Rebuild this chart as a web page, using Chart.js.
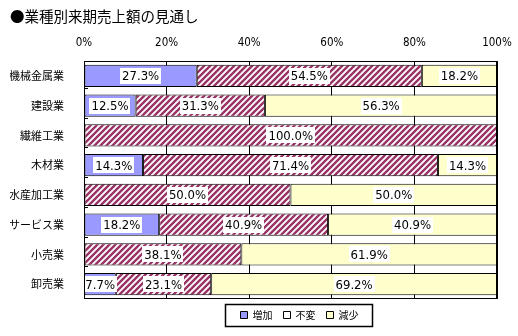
<!DOCTYPE html>
<html lang="ja">
<head>
<meta charset="UTF-8">
<title>業種別来期売上額の見通し</title>
<style>
    body { margin: 0; background: #fff; }
    #wrap { width: 518px; height: 336px; }
</style>
</head>
<body>
<div id="wrap"><canvas id="chart" width="518" height="336"></canvas></div>
<script src="https://cdn.jsdelivr.net/npm/chart.js"></script>
<script>
// データ
const categories = ['機械金属業', '建設業', '繊維工業', '木材業', '水産加工業', 'サービス業', '小売業', '卸売業'];
const seriesNames = ['増加', '不変', '減少'];
const zouka = [27.3, 12.5, 0, 14.3, 0, 18.2, 0, 7.7];
const fuhen = [54.5, 31.3, 100, 71.4, 50.0, 40.9, 38.1, 23.1];
const genshou = [18.2, 56.3, 0, 14.3, 50.0, 40.9, 61.9, 69.2];
const xTicks = [0, 20, 40, 60, 80, 100];

const JP = '"Noto Sans CJK JP", sans-serif';
const NUM = '"Liberation Sans Narrow", "DejaVu Sans Condensed", "Liberation Sans", sans-serif';

// 斜線パターン（不変）
function makeHatch() {
    const c = document.createElement('canvas');
    c.width = 6; c.height = 6;
    const g = c.getContext('2d');
    g.fillStyle = '#fff';
    g.fillRect(0, 0, 6, 6);
    g.strokeStyle = '#993366';
    g.lineWidth = 2.4;
    g.beginPath();
    g.moveTo(-1, 1); g.lineTo(1, -1);
    g.moveTo(-1, 7); g.lineTo(7, -1);
    g.moveTo(5, 7); g.lineTo(7, 5);
    g.stroke();
    return g.createPattern(c, 'repeat');
}
const hatch = makeHatch();

// 各区間の中央に白地のラベル
const valueLabels = {
    id: 'valueLabels',
    afterDatasetsDraw(chart) {
        const ctx = chart.ctx;
        ctx.save();
        ctx.font = '13px ' + NUM;
        ctx.textAlign = 'center';
        ctx.textBaseline = 'middle';
        chart.data.datasets.forEach((ds, i) => {
            chart.getDatasetMeta(i).data.forEach((el, j) => {
                const v = ds.data[j];
                if (!v) return;
                const p = el.getCenterPoint();
                const t = v.toFixed(1) + '%';
                const w = ctx.measureText(t).width + 4;
                ctx.fillStyle = '#fff';
                ctx.fillRect(Math.round(p.x - w / 2), Math.round(p.y - 8), Math.round(w), 16);
                ctx.fillStyle = '#000';
                ctx.fillText(t, p.x, p.y + 1);
            });
        });
        ctx.restore();
    }
};

// プロットエリアの枠と内向きの目盛
const plotFrame = {
    id: 'plotFrame',
    afterDatasetsDraw(chart) {
        const a = chart.chartArea;
        const y = chart.scales.y;
        const ctx = chart.ctx;
        ctx.save();
        ctx.strokeStyle = '#000';
        ctx.lineWidth = 1;
        ctx.strokeRect(Math.round(a.left) + 0.5, Math.round(a.top) + 0.5, Math.round(a.right - a.left) - 1, Math.round(a.bottom - a.top) - 1);
        ctx.beginPath();
        for (let i = 1; i < categories.length; i++) {
            const py = Math.round(y.getPixelForValue(i - 0.5)) - 2.5;
            ctx.moveTo(a.left, py);
            ctx.lineTo(a.left + 4, py);
        }
        ctx.stroke();
        ctx.restore();
    }
};

// 凡例を少し右へずらし、枠で囲む
const legendBox = {
    id: 'legendBox',
    afterLayout(chart) {
        chart.legend.left += 9;
        chart.legend.right += 9;
    },
    afterDraw(chart) {
        const hb = chart.legend.legendHitBoxes;
        if (!hb || !hb.length) return;
        const first = hb[0], last = hb[hb.length - 1];
        const cy = first.top + first.height / 2;
        const ctx = chart.ctx;
        ctx.save();
        ctx.strokeStyle = '#000';
        ctx.lineWidth = 1.5;
        ctx.strokeRect(Math.round(first.left - 16) + 0.5, Math.round(cy - 11) + 0.5, Math.round(last.left + last.width + 13 - first.left + 16), 22);
        ctx.restore();
    }
};

Chart.defaults.color = '#000';

new Chart(document.getElementById('chart'), {
    type: 'bar',
    data: {
        labels: categories,
        datasets: [
            { label: seriesNames[0], data: zouka, backgroundColor: '#9999ff' },
            { label: seriesNames[1], data: fuhen, backgroundColor: hatch },
            { label: seriesNames[2], data: genshou, backgroundColor: '#ffffcc' }
        ].map(d => Object.assign(d, {
            borderColor: '#000',
            borderWidth: 1,
            borderSkipped: false,
            barPercentage: 0.74,
            categoryPercentage: 1
        }))
    },
    options: {
        indexAxis: 'y',
        responsive: false,
        animation: false,
        events: [],
        layout: { padding: { left: 10, right: 21, top: 0, bottom: 6 } },
        scales: {
            x: {
                position: 'top',
                stacked: true,
                min: 0,
                max: 100,
                afterBuildTicks(s) { s.ticks = xTicks.map(v => ({ value: v })); },
                afterFit(s) { s.paddingLeft = 0; s.paddingRight = 0; s.height = 26.2; },
                ticks: {
                    callback: v => v + '%',
                    font: { family: NUM, size: 11.5 },
                    padding: 11
                },
                grid: { color: '#000', lineWidth: 1, drawTicks: false },
                border: { display: true, color: '#000' }
            },
            y: {
                stacked: true,
                afterFit(s) { s.width = 74; },
                ticks: { font: { family: JP, size: 11 }, padding: 12 },
                grid: { display: false },
                border: { display: false }
            }
        },
        plugins: {
            title: {
                display: true,
                text: '●業種別来期売上額の見通し',
                align: 'start',
                font: { family: JP, size: 14.5, weight: 'normal' },
                padding: { top: 8, bottom: 9.4 }
            },
            legend: {
                position: 'bottom',
                fullSize: false,
                labels: {
                    boxWidth: 7,
                    boxHeight: 7,
                    padding: 11,
                    font: { family: JP, size: 10 },
                    generateLabels(chart) {
                        const items = Chart.defaults.plugins.legend.labels.generateLabels(chart);
                        items.forEach((it, i) => {
                            if (i === 1) it.fillStyle = '#fff';
                            it.strokeStyle = '#000';
                            it.lineWidth = 1;
                        });
                        return items;
                    }
                }
            },
            tooltip: { enabled: false }
        }
    },
    plugins: [valueLabels, plotFrame, legendBox]
});
</script>
</body>
</html>
